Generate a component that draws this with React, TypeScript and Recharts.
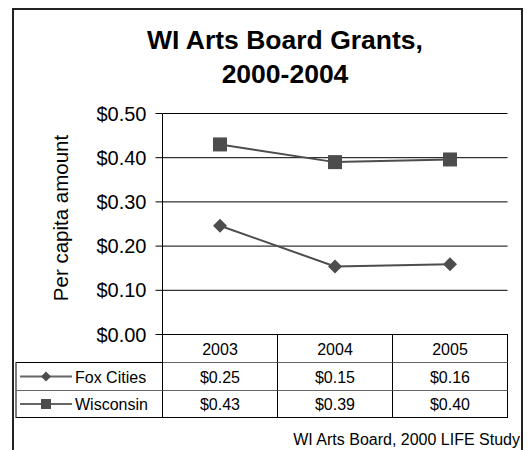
import { LineChart, Line, XAxis, YAxis, CartesianGrid } from "recharts";

const years = ["2003", "2004", "2005"];
const foxCities = [0.246, 0.154, 0.159];
const wisconsin = [0.43, 0.39, 0.396];
const yTicks = [0, 0.1, 0.2, 0.3, 0.4, 0.5];

const seriesNames = ["Fox Cities", "Wisconsin"];

const data = years.map((year, i) => ({
	year,
	fox: foxCities[i],
	wi: wisconsin[i],
}));

const FONT = "'Liberation Sans', Arial, sans-serif";
const LINE_COLOR = "#4d4d4d";
const COL_W = 115;
const LEGEND_W = 146.5;
const ROW_H = [28, 28, 27];

const money = (v: number) => "$" + (Math.round(v * 100) / 100).toFixed(2);

const Diamond = ({ cx, cy, r }: { cx: number; cy: number; r: number }) => (
	<path
		d={`M${cx},${cy - r}L${cx + r},${cy}L${cx},${cy + r}L${cx - r},${cy}Z`}
		fill={LINE_COLOR}
	/>
);

const Square = ({ cx, cy, r }: { cx: number; cy: number; r: number }) => (
	<rect x={cx - r} y={cy - r} width={r * 2} height={r * 2} fill={LINE_COLOR} />
);

const markers = [Diamond, Square];

// the x axis ticks draw the data table below the plot
const TableTick = (props: any) => {
	const { x, y, payload } = props;
	const i = payload.index;
	const left = x - COL_W / 2;
	const r1 = y + ROW_H[0];
	const r2 = r1 + ROW_H[1];
	const bottom = r2 + ROW_H[2];
	const rows = [foxCities, wisconsin];
	return (
		<g fontFamily={FONT} fontSize={16} fill="#000">
			<rect x={left} y={y} width={COL_W} height={bottom - y} fill="none" stroke="#000" />
			<line x1={left} x2={left + COL_W} y1={r1} y2={r1} stroke="#666" />
			<line x1={left} x2={left + COL_W} y1={r2} y2={r2} stroke="#666" />
			<text x={x} y={y + 20} textAnchor="middle">
				{payload.value}
			</text>
			{rows.map((vals, k) => (
				<text key={k} x={x} y={y + 48 + k * 27} textAnchor="middle">
					{money(vals[i])}
				</text>
			))}
			{i === 0 && (
				<g>
					<rect
						x={left - LEGEND_W}
						y={r1}
						width={LEGEND_W}
						height={bottom - r1}
						fill="none"
						stroke="#000"
					/>
					<line x1={left - LEGEND_W} x2={left} y1={r2} y2={r2} stroke="#666" />
					{seriesNames.map((name, k) => {
						const cy = k === 0 ? (r1 + r2) / 2 : (r2 + bottom) / 2;
						const Mark = markers[k];
						const lx = left - LEGEND_W + 4;
						return (
							<g key={name}>
								<line x1={lx} x2={lx + 52} y1={cy} y2={cy} stroke="#666" strokeWidth={2} />
								<Mark cx={lx + 26} cy={cy} r={5} />
								<text x={lx + 55} y={cy + 6}>
									{name}
								</text>
							</g>
						);
					})}
				</g>
			)}
		</g>
	);
};

export default function App() {
	return (
		<div
			style={{
				position: "relative",
				width: 532,
				height: 450,
				margin: "-8px 0 0 -8px",
				overflow: "hidden",
				background: "#fff",
				fontFamily: FONT,
			}}
		>
			<div
				style={{
					position: "absolute",
					left: 12,
					top: 8,
					width: 511,
					height: 470,
					border: "2px solid #222",
					boxSizing: "border-box",
				}}
			/>
			<div
				style={{
					position: "absolute",
					left: 85,
					top: 23,
					width: 400,
					textAlign: "center",
					fontSize: 26.5,
					fontWeight: "bold",
					lineHeight: "34px",
				}}
			>
				WI Arts Board Grants,
				<br />
				2000-2004
			</div>
			<LineChart
				width={532}
				height={450}
				data={data}
				margin={{ top: 113.5, right: 24.5, left: 62.5, bottom: 31.5 }}
				style={{ position: "absolute", left: 0, top: 0 }}
			>
				<CartesianGrid vertical={false} stroke="#000" strokeDasharray="0" />
				<XAxis
					dataKey="year"
					scale="point"
					padding={{ left: COL_W / 2, right: COL_W / 2 }}
					axisLine={false}
					tickLine={false}
					tickSize={0}
					tickMargin={0}
					height={84}
					interval={0}
					tick={<TableTick />}
				/>
				<YAxis
					width={100}
					domain={[0, 0.5]}
					ticks={yTicks}
					tickFormatter={money}
					axisLine={{ stroke: "#000" }}
					tickLine={{ stroke: "#000" }}
					tickSize={7}
					tickMargin={9}
					tick={{ fontSize: 20, fill: "#000", fontFamily: FONT }}
					label={{
						content: () => (
							<text
								x={60}
								y={218}
								transform="rotate(-90, 60, 218)"
								textAnchor="middle"
								dominantBaseline="central"
								fontSize={20.5}
								fontFamily={FONT}
								fill="#000"
							>
								Per capita amount
							</text>
						),
					}}
				/>
				<Line
					dataKey="fox"
					name={seriesNames[0]}
					stroke={LINE_COLOR}
					strokeWidth={2}
					isAnimationActive={false}
					dot={(p: any) => <Diamond key={`f${p.index}`} cx={p.cx} cy={p.cy} r={7} />}
				/>
				<Line
					dataKey="wi"
					name={seriesNames[1]}
					stroke={LINE_COLOR}
					strokeWidth={2}
					isAnimationActive={false}
					dot={(p: any) => <Square key={`w${p.index}`} cx={p.cx} cy={p.cy} r={7} />}
				/>
			</LineChart>
			<div
				style={{
					position: "absolute",
					right: 12,
					top: 431,
					fontSize: 16,
					lineHeight: "18px",
					whiteSpace: "nowrap",
				}}
			>
				WI Arts Board, 2000 LIFE Study
			</div>
		</div>
	);
}
